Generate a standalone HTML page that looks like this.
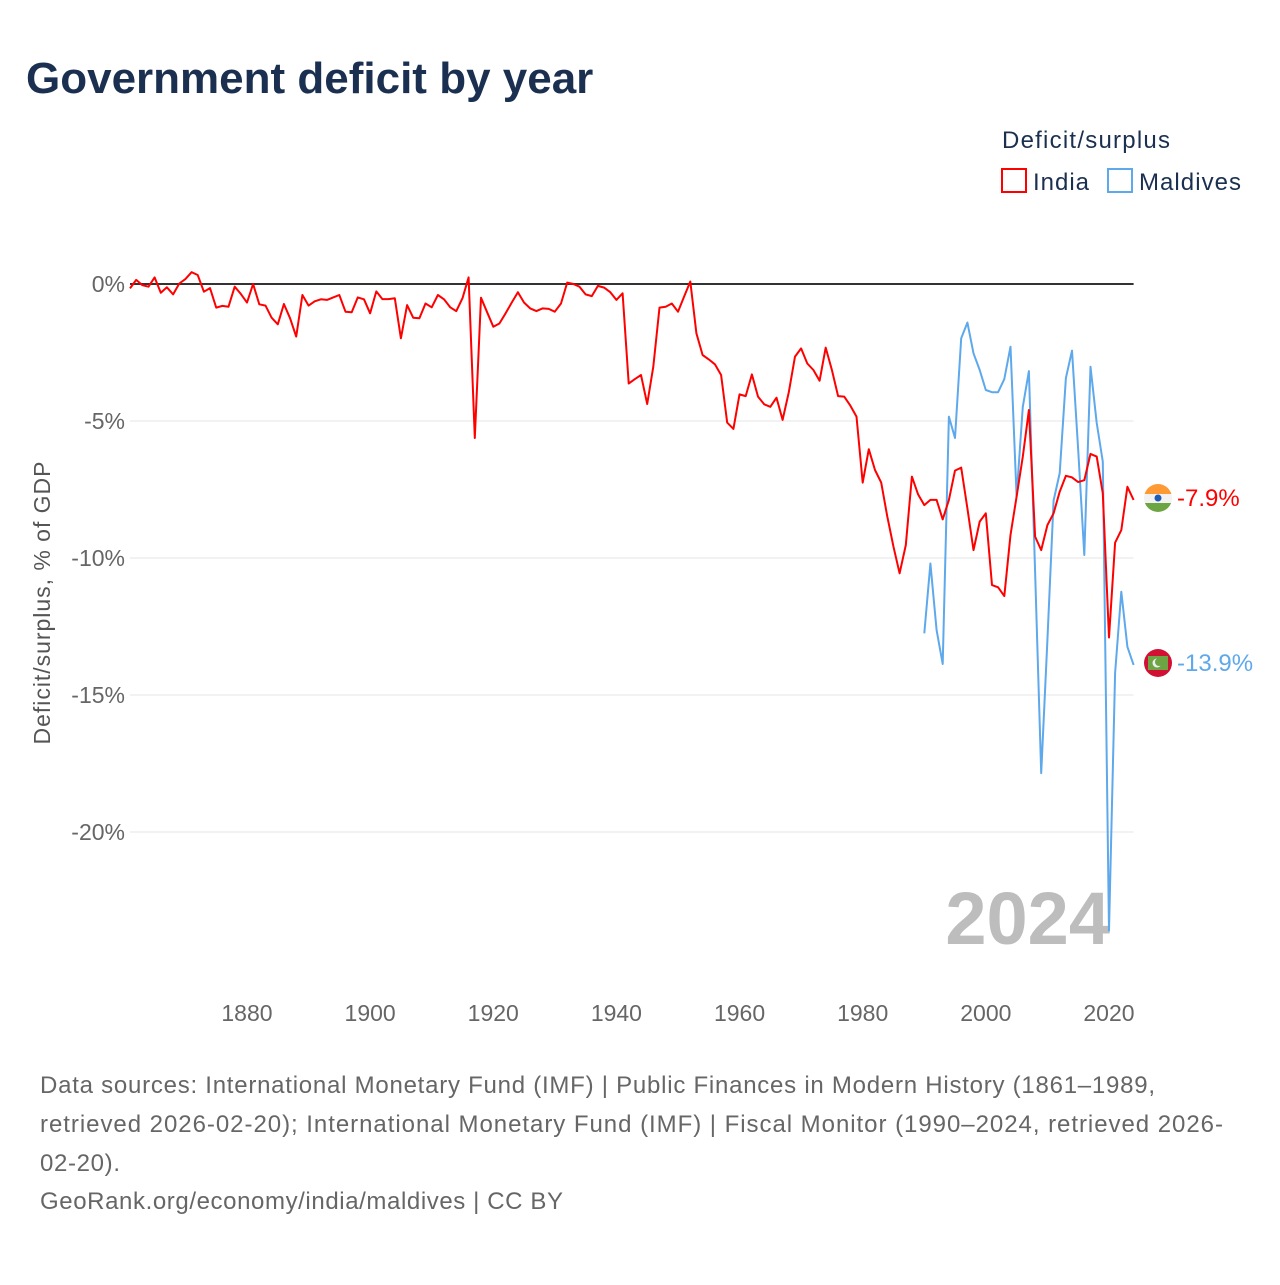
<!DOCTYPE html>
<html><head><meta charset="utf-8"><style>
body{margin:0;background:#fff;width:1280px;height:1280px;overflow:hidden;font-family:"Liberation Sans",sans-serif}
</style></head><body>
<svg width="1280" height="1280" viewBox="0 0 1280 1280" xmlns="http://www.w3.org/2000/svg" id="chart">
<text x="26" y="93" font-size="44" font-weight="bold" fill="#1b3050">Government deficit by year</text>
<text x="1002" y="148" font-size="24" fill="#1b3050" textLength="168">Deficit/surplus</text>
<g><rect x="1002" y="169" width="24" height="23" fill="none" stroke="#ff0000" stroke-width="2"/><text x="1033" y="190" font-size="24" fill="#1b3050" textLength="56">India</text></g>
<g><rect x="1108" y="169" width="24" height="23" fill="none" stroke="#5ea8ec" stroke-width="2"/><text x="1139" y="190" font-size="24" fill="#1b3050" textLength="102">Maldives</text></g>
<text transform="translate(50,603) rotate(-90)" text-anchor="middle" font-size="23" fill="#555" textLength="283">Deficit/surplus, % of GDP</text>
<g id="grid"></g>
<g id="xt"></g>
<text x="1110" y="944" text-anchor="end" font-size="74" font-weight="bold" fill="#bdbdbd">2024</text>
<g id="series"></g>
<g>
<clipPath id="cf1"><circle cx="1158" cy="498" r="14"/></clipPath>
<g clip-path="url(#cf1)"><rect x="1144" y="484" width="28" height="10" fill="#ff9933"/><rect x="1144" y="494" width="28" height="9" fill="#f2f2f2"/><rect x="1144" y="503" width="28" height="10" fill="#6da544"/></g>
<circle cx="1158" cy="498" r="3.5" fill="#1f5bb5"/></g>
<text x="1177" y="506" font-size="24" fill="#ff0000">-7.9%</text>
<g>
<circle cx="1158" cy="663" r="14" fill="#d21034"/><rect x="1148" y="656" width="20" height="14" fill="#6da544"/>
<circle cx="1157" cy="663" r="4.5" fill="#eee"/><circle cx="1159" cy="662" r="4" fill="#6da544"/></g>
<text x="1177" y="671" font-size="24" fill="#5ea8ec">-13.9%</text>
<g font-size="24" fill="#666">
<text x="40" y="1093" textLength="1115">Data sources: International Monetary Fund (IMF) | Public Finances in Modern History (1861–1989,</text>
<text x="40" y="1132" textLength="1183">retrieved 2026-02-20); International Monetary Fund (IMF) | Fiscal Monitor (1990–2024, retrieved 2026-</text>
<text x="40" y="1171" textLength="80">02-20).</text>
<text x="40" y="1209" textLength="523">GeoRank.org/economy/india/maldives | CC BY</text>
</g>
</svg>
<script>
const yTicks=[0,-5,-10,-15,-20];
const yTickLabels=["0%","-5%","-10%","-15%","-20%"];
const xTicks=[1880,1900,1920,1940,1960,1980,2000,2020];
const indiaStart=1861;
const indiaValues=[-0.16,0.15,-0.04,-0.1,0.24,-0.32,-0.12,-0.38,0.02,0.18,0.43,0.33,-0.28,-0.15,-0.86,-0.8,-0.83,-0.1,-0.36,-0.68,0,-0.74,-0.79,-1.23,-1.47,-0.73,-1.25,-1.92,-0.4,-0.79,-0.63,-0.56,-0.58,-0.49,-0.4,-1.01,-1.03,-0.49,-0.56,-1.07,-0.27,-0.55,-0.55,-0.52,-1.98,-0.77,-1.23,-1.25,-0.71,-0.85,-0.4,-0.56,-0.85,-0.99,-0.52,0.24,-5.62,-0.5,-1.03,-1.56,-1.44,-1.07,-0.68,-0.3,-0.68,-0.89,-0.99,-0.89,-0.91,-1.01,-0.71,0.05,0,-0.1,-0.38,-0.44,-0.07,-0.13,-0.3,-0.58,-0.34,-3.63,-3.47,-3.32,-4.38,-3.02,-0.86,-0.83,-0.71,-1.01,-0.46,0.09,-1.8,-2.59,-2.75,-2.93,-3.32,-5.06,-5.29,-4.03,-4.09,-3.3,-4.11,-4.39,-4.48,-4.15,-4.96,-3.95,-2.65,-2.35,-2.9,-3.14,-3.53,-2.32,-3.14,-4.09,-4.11,-4.44,-4.84,-7.25,-6.03,-6.79,-7.25,-8.49,-9.59,-10.56,-9.53,-7.03,-7.68,-8.07,-7.88,-7.88,-8.59,-7.88,-6.81,-6.7,-8.19,-9.71,-8.67,-8.37,-10.99,-11.07,-11.39,-9.16,-7.76,-6.3,-4.6,-9.22,-9.71,-8.8,-8.37,-7.58,-7.0,-7.06,-7.23,-7.16,-6.2,-6.3,-7.64,-12.9,-9.44,-8.98,-7.4,-7.88];
const maldivesStart=1990;
const maldivesValues=[-12.75,-10.2,-12.63,-13.87,-4.84,-5.62,-1.98,-1.41,-2.53,-3.14,-3.87,-3.95,-3.95,-3.47,-2.29,-7.76,-4.48,-3.18,-10.5,-17.85,-13.0,-7.9,-6.9,-3.43,-2.43,-6.06,-9.89,-3.02,-5.07,-6.48,-23.6,-14.2,-11.23,-13.24,-13.9];
const X0=130,X1=1133.6,Y0=284,PPU=27.4;
const xs=y=>X0+(y-1861)*(X1-X0)/(2024-1861);
const ys=v=>Y0-v*PPU;
const NS="http://www.w3.org/2000/svg";
function mk(t,a,p){const e=document.createElementNS(NS,t);for(const k in a)e.setAttribute(k,a[k]);p.appendChild(e);return e;}
const grid=document.getElementById('grid');
yTicks.forEach((v,i)=>{
 const l=mk('line',{x1:X0,x2:X1,y1:ys(v),y2:ys(v),stroke:v===0?'#333':'#e6e6e6','stroke-width':v===0?2:1},grid);
 
 
 const t=mk('text',{x:125,y:ys(v)+8,'text-anchor':'end','font-size':23,fill:'#666'},grid);
 t.textContent=yTickLabels[i];
 
 
});
const xt=document.getElementById('xt');
xTicks.forEach(y=>{
 const t=mk('text',{x:xs(y),y:1021,'text-anchor':'middle','font-size':23,fill:'#666'},xt);
 t.textContent=y;
 
 
});
const s=document.getElementById('series');
function line(start,vals,col,name){
 const d=vals.map((v,i)=>(i?'L':'M')+xs(start+i).toFixed(1)+','+ys(v).toFixed(1)).join(' ');
 const p=mk('path',{d:d,fill:'none',stroke:col,'stroke-width':2,'stroke-linejoin':'round'},s);
 
 
}
line(maldivesStart,maldivesValues,'#5ea8ec','maldives-line');
line(indiaStart,indiaValues,'#ff0000','india-line');
</script>
</body></html>
